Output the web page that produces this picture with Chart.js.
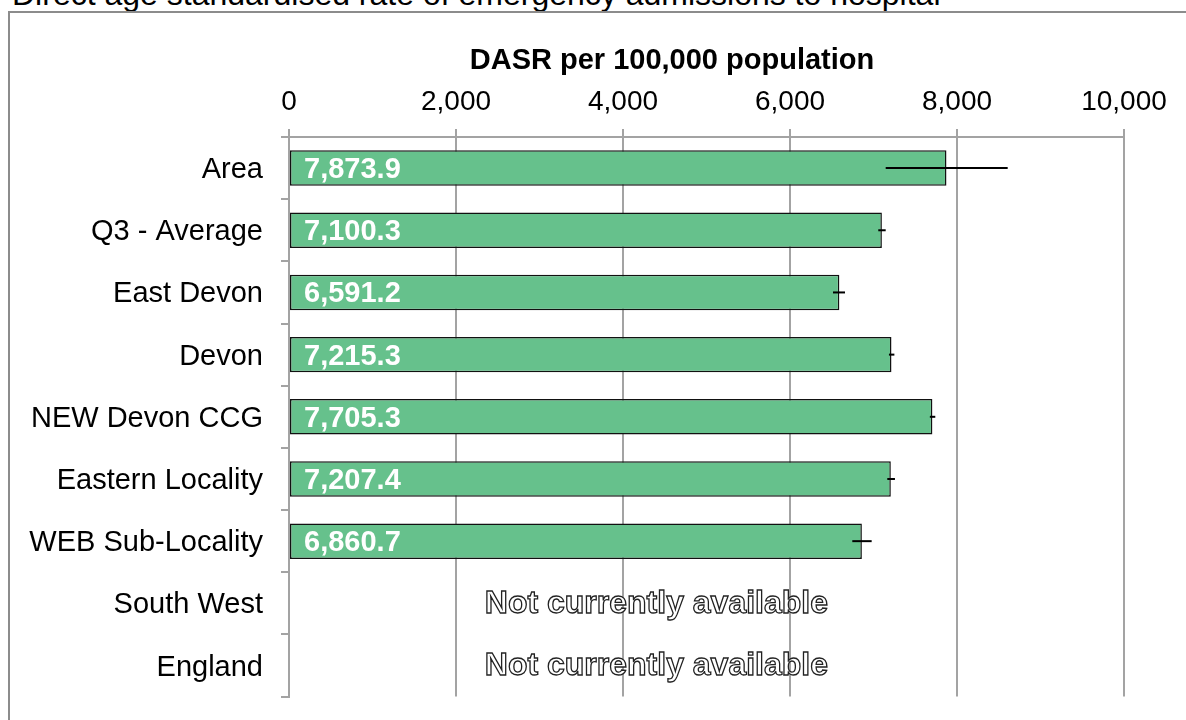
<!DOCTYPE html>
<html>
<head>
<meta charset="utf-8">
<script src="https://cdn.jsdelivr.net/npm/chart.js@4.4.1/dist/chart.umd.min.js"></script>
<style>
  body { margin: 0; width: 1186px; height: 720px; overflow: hidden; background: #fff; font-family: "Liberation Sans", Arial, sans-serif; }
  #heading { position: absolute; left: 12px; top: -24px; font-size: 32px; color: #000; white-space: nowrap; }
  #frame { position: absolute; left: 8px; top: 11px; width: 1400px; height: 900px; border: 2px solid #8c8c8c; }
  #chartWrap { position: absolute; left: 0; top: 0; width: 1186px; height: 732px; }
</style>
</head>
<body>
<div id="heading">Direct age standardised rate of emergency admissions to hospital</div>
<div id="frame"></div>
<div id="chartWrap"><canvas id="dasrChart" width="1186" height="732"></canvas></div>
<script>
// Areas, top to bottom
const categories = ["Area", "Q3 - Average", "East Devon", "Devon", "NEW Devon CCG", "Eastern Locality", "WEB Sub-Locality", "South West", "England"];

// DASR per 100,000 (null = not currently available)
const dasr = [7873.9, 7100.3, 6591.2, 7215.3, 7705.3, 7207.4, 6860.7, null, null];

// 95% confidence limits
const lowerCI = [7146, 7057, 6515, 7185, 7675, 7165, 6746, null, null];
const upperCI = [8607, 7146, 6659, 7250, 7740, 7257, 6978, null, null];

const xTicks = [0, 2000, 4000, 6000, 8000, 10000];
const missingText = "Not currently available";
const axisTitle = "DASR per 100,000 population";

const FONT = '"Liberation Sans", Arial, sans-serif';

const fmt1 = v => v.toLocaleString('en-GB', { minimumFractionDigits: 1, maximumFractionDigits: 1 });

// error bars, value labels, missing notes and axis title
const extrasPlugin = {
  id: 'extras',
  afterDatasetsDraw(chart) {
    const ctx = chart.ctx;
    const xs = chart.scales.x;
    const ys = chart.scales.y;
    const meta = chart.getDatasetMeta(0);
    ctx.save();

    // error bars
    ctx.strokeStyle = '#000';
    ctx.lineWidth = 2;
    meta.data.forEach((bar, i) => {
      if (lowerCI[i] == null) return;
      ctx.beginPath();
      ctx.moveTo(xs.getPixelForValue(lowerCI[i]), bar.y);
      ctx.lineTo(xs.getPixelForValue(upperCI[i]), bar.y);
      ctx.stroke();
    });

    // value labels inside bars
    ctx.fillStyle = '#fff';
    ctx.font = 'bold 29px ' + FONT;
    ctx.textAlign = 'left';
    ctx.textBaseline = 'middle';
    meta.data.forEach((bar, i) => {
      if (dasr[i] == null) return;
      ctx.fillText(fmt1(dasr[i]), chart.chartArea.left + 15, bar.y + 2);
    });

    // "Not currently available" outlined text
    ctx.font = 'bold 32px ' + FONT;
    ctx.textAlign = 'center';
    ctx.lineWidth = 1.3;
    ctx.strokeStyle = '#222';
    dasr.forEach((v, i) => {
      if (v != null) return;
      const x = xs.getPixelForValue(4400);
      const y = ys.getPixelForValue(i);
      ctx.fillStyle = '#fff';
      ctx.fillText(missingText, x, y + 1);
      ctx.strokeText(missingText, x, y + 1);
    });

    // axis title
    ctx.fillStyle = '#000';
    ctx.font = 'bold 29px ' + FONT;
    ctx.textAlign = 'center';
    ctx.fillText(axisTitle, 672, 61);
    ctx.restore();
  }
};

const ctx = document.getElementById('dasrChart').getContext('2d');
new Chart(ctx, {
  type: 'bar',
  data: {
    labels: categories,
    datasets: [{
      data: dasr,
      backgroundColor: '#66c18c',
      borderColor: '#111',
      borderWidth: 1.5,
      borderSkipped: false,
      barPercentage: 0.57,
      categoryPercentage: 1
    }]
  },
  options: {
    indexAxis: 'y',
    responsive: false,
    animation: false,
    layout: { padding: { left: 0, top: 0, right: 62, bottom: 0 } },
    plugins: {
      legend: { display: false },
      tooltip: { enabled: false }
    },
    scales: {
      x: {
        position: 'top',
        min: xTicks[0],
        max: xTicks[xTicks.length - 1],
        afterBuildTicks: scale => { scale.ticks = xTicks.map(v => ({ value: v })); },
        afterFit: scale => { scale.height = 137; },
        ticks: {
          color: '#000',
          font: { family: FONT, size: 28 },
          padding: 10,
          maxRotation: 0,
          callback: v => v.toLocaleString('en-GB')
        },
        grid: { color: '#a3a3a3', lineWidth: 2, tickLength: 8 },
        border: { color: '#a3a3a3', width: 2 }
      },
      y: {
        afterFit: scale => { scale.width = 289; },
        ticks: {
          color: '#000',
          font: { family: FONT, size: 29 },
          padding: 18,
          labelOffset: 2
        },
        grid: { offset: true, drawOnChartArea: false, color: '#a3a3a3', lineWidth: 2, tickLength: 8 },
        border: { color: '#a3a3a3', width: 2 }
      }
    }
  },
  plugins: [extrasPlugin]
});
</script>
</body>
</html>
